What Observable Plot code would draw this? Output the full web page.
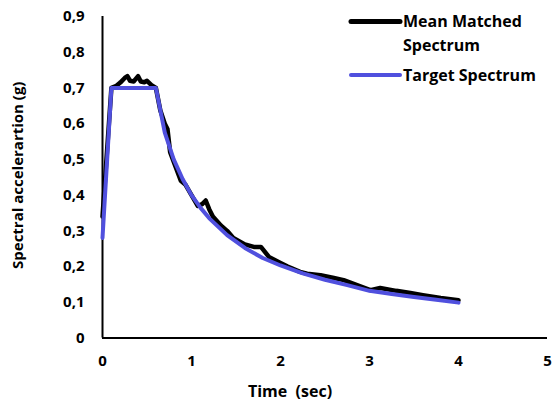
<!DOCTYPE html>
<html>
<head>
<meta charset="utf-8">
<script src="https://cdn.jsdelivr.net/npm/d3@7"></script>
<script src="https://cdn.jsdelivr.net/npm/@observablehq/plot@0.6"></script>
<style>
  body { margin: 0; background: #fff; }
  #chart { position: relative; width: 554px; height: 410px; font-family: "Open Sans", sans-serif; font-weight: 700; }
  #chart svg.legend { position: absolute; left: 0; top: 0; pointer-events: none; }
</style>
</head>
<body>
<div id="chart"></div>
<script>
// Mean matched spectrum (period in s, spectral acceleration in g)
const matchedPeriods = [0, 0.1, 0.15, 0.2, 0.25, 0.28, 0.31, 0.35, 0.4, 0.43, 0.47, 0.5, 0.55, 0.6,
  0.65, 0.7, 0.73, 0.76, 0.82, 0.88, 0.93, 1.0, 1.07, 1.12, 1.16, 1.2, 1.24, 1.33, 1.4, 1.47,
  1.6, 1.7, 1.78, 1.87, 2.0, 2.08, 2.22, 2.3, 2.45, 2.6, 2.71, 2.86, 3.01, 3.12, 3.3, 3.46,
  3.6, 3.8, 4.0];
const matchedValues = [0.34, 0.70, 0.705, 0.715, 0.728, 0.733, 0.72, 0.718, 0.733, 0.718, 0.716, 0.72, 0.708, 0.70,
  0.637, 0.60, 0.585, 0.52, 0.48, 0.44, 0.43, 0.40, 0.37, 0.375, 0.385, 0.36, 0.34, 0.315, 0.30, 0.28,
  0.262, 0.255, 0.255, 0.227, 0.21, 0.20, 0.185, 0.18, 0.176, 0.168, 0.162, 0.148, 0.134, 0.14, 0.132, 0.126,
  0.12, 0.112, 0.106];

// Target design spectrum
const targetPeriods = [0, 0.1, 0.6, 0.7, 0.8, 0.9, 1.0, 1.1, 1.2, 1.4, 1.6, 1.8, 2.0, 2.25, 2.5, 2.75,
  3.0, 3.25, 3.5, 3.75, 4.0];
const targetValues = [0.28, 0.70, 0.70, 0.575, 0.50, 0.445, 0.40, 0.365, 0.335, 0.288, 0.252, 0.224, 0.203, 0.181, 0.163, 0.148,
  0.132, 0.123, 0.115, 0.107, 0.099];

const xTicks = [0, 1, 2, 3, 4, 5];
const yTicks = [0, 0.1, 0.2, 0.3, 0.4, 0.5, 0.6, 0.7, 0.8, 0.9];
const seriesNames = ["Mean Matched Spectrum", "Target Spectrum"];
const seriesColors = ["#000000", "#5050de"];
const xTitle = "Time\u00a0\u00a0(sec)";
const yTitle = "Spectral accelerartion (g)";

const matched = matchedPeriods.map((t, i) => ({t, sa: matchedValues[i]}));
const target = targetPeriods.map((t, i) => ({t, sa: targetValues[i]}));

const W = 554, H = 410;
const margin = {left: 102, right: 7, top: 16, bottom: 72.5};

const plot = Plot.plot({
  width: W,
  height: H,
  marginLeft: margin.left,
  marginRight: margin.right,
  marginTop: margin.top,
  marginBottom: margin.bottom,
  style: {fontFamily: "'Open Sans', sans-serif", fontWeight: 700, fontSize: "15px", color: "#000", background: "#fff", overflow: "visible"},
  x: {domain: [0, 5]},
  y: {domain: [0, 0.9]},
  marks: [
    Plot.axisX(xTicks, {tickSize: 0, tickPadding: 17, label: null, fontSize: 15, fontWeight: 700}),
    Plot.axisY(yTicks, {tickSize: 0, tickPadding: 18, label: null, fontSize: 15, fontWeight: 700,
      tickFormat: d => d3.format(".1~f")(d).replace(".", ",")}),
    Plot.ruleX([0], {y1: 0, y2: 0.9, stroke: "#000", strokeWidth: 2}),
    Plot.ruleY([0], {stroke: "#000", strokeWidth: 2}),
    Plot.line(matched, {x: "t", y: "sa", stroke: seriesColors[0], strokeWidth: 4.5, strokeLinejoin: "round", strokeLinecap: "round"}),
    Plot.line(target, {x: "t", y: "sa", stroke: seriesColors[1], strokeWidth: 4, strokeLinejoin: "round", strokeLinecap: "round"}),
    Plot.text([yTitle], {frameAnchor: "left", dx: -84, dy: -2, rotate: -90, textAnchor: "middle", fontSize: 15, fontWeight: 700}),
    Plot.text([xTitle], {frameAnchor: "bottom", dx: -35, dy: 59, textAnchor: "middle", fontSize: 16, fontWeight: 700})
  ]
});

const chart = document.getElementById("chart");
chart.appendChild(plot);

// Legend drawn as an overlay in the upper right of the plot area
const legend = d3.select(chart).append("svg")
  .attr("class", "legend")
  .attr("width", W).attr("height", H)
  .attr("font-family", "'Open Sans', sans-serif")
  .attr("font-weight", 700)
  .attr("font-size", 16);

const entries = [
  {y: 21.5, color: seriesColors[0], width: 5, lines: ["Mean Matched", "Spectrum"]},
  {y: 75, color: seriesColors[1], width: 4, lines: [seriesNames[1]]}
];
for (const e of entries) {
  legend.append("line")
    .attr("x1", 351).attr("x2", 400)
    .attr("y1", e.y).attr("y2", e.y)
    .attr("stroke", e.color).attr("stroke-width", e.width)
    .attr("stroke-linecap", "round");
  e.lines.forEach((s, i) => {
    legend.append("text")
      .attr("x", 403).attr("y", e.y + i * 24)
      .attr("dy", "0.36em")
      .attr("fill", "#000")
      .text(s);
  });
}
</script>
</body>
</html>
